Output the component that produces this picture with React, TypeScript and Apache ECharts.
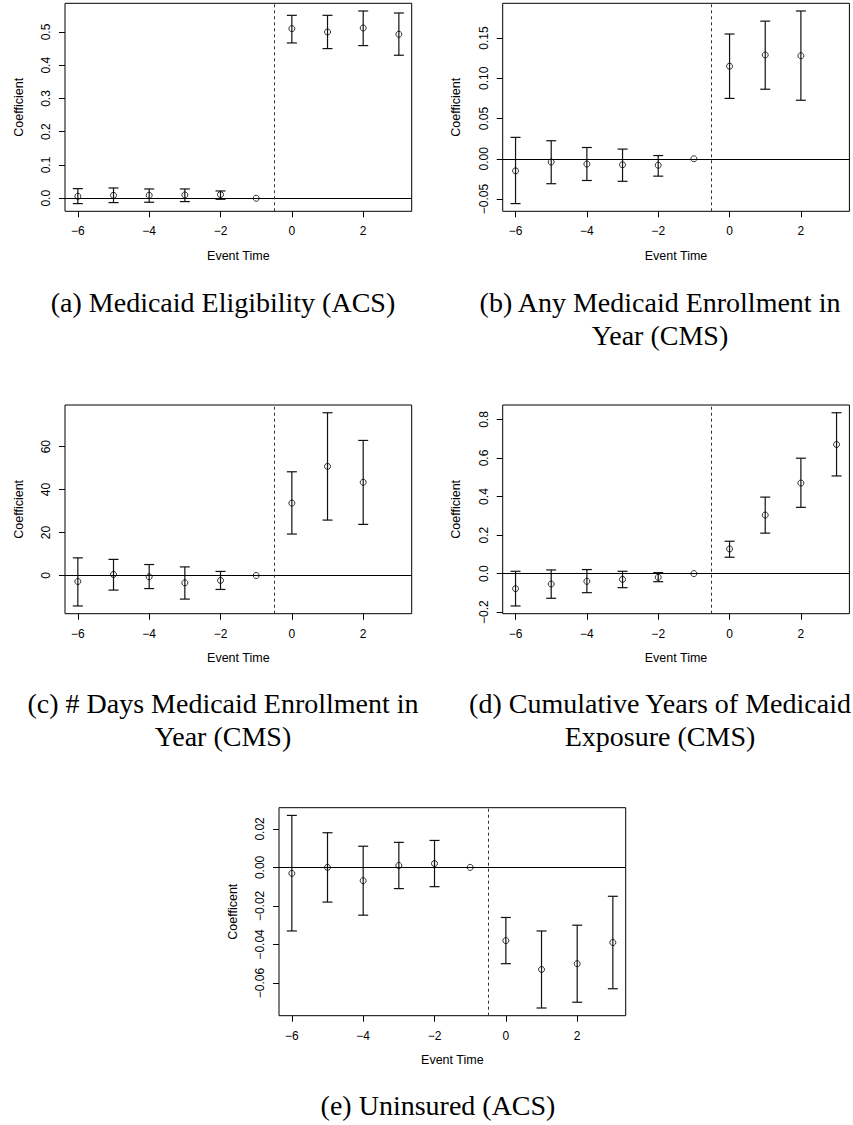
import React, { useEffect, useRef } from "react";
import * as echarts from "echarts";

// ---------- data ----------
const eventTime = [-6, -5, -4, -3, -2, -1, 0, 1, 2, 3];

const xTickValues = [-6, -4, -2, 0, 2];
const xTickLabels = ["\u22126", "\u22124", "\u22122", "0", "2"];

// (a) Medicaid Eligibility (ACS)
const aEst = [0.006, 0.009, 0.009, 0.010, 0.011, 0, 0.510, 0.500, 0.512, 0.493];
const aLo = [-0.016, -0.013, -0.012, -0.010, -0.003, null, 0.467, 0.450, 0.459, 0.430];
const aHi = [0.029, 0.031, 0.028, 0.028, 0.022, null, 0.550, 0.550, 0.563, 0.557];
const aTickValues = [0, 0.1, 0.2, 0.3, 0.4, 0.5];
const aTickLabels = ["0.0", "0.1", "0.2", "0.3", "0.4", "0.5"];

// (b) Any Medicaid Enrollment in Year (CMS)
const bEst = [-0.015, -0.004, -0.0066, -0.0075, -0.008, 0, 0.115, 0.129, 0.128];
const bLo = [-0.0557, -0.031, -0.027, -0.028, -0.0216, null, 0.075, 0.0864, 0.0727];
const bHi = [0.0266, 0.0224, 0.014, 0.012, 0.004, null, 0.155, 0.171, 0.1836];
const bTickValues = [-0.05, 0, 0.05, 0.1, 0.15];
const bTickLabels = ["\u22120.05", "0.00", "0.05", "0.10", "0.15"];

// (c) # Days Medicaid Enrollment in Year (CMS)
const cEst = [-2.8, 0.5, -0.6, -3.4, -2.3, 0, 33.7, 50.8, 43.4];
const cLo = [-14.2, -6.8, -6.1, -11.0, -6.5, null, 19.3, 25.8, 23.8];
const cHi = [8.2, 7.5, 5.1, 4.0, 1.9, null, 48.3, 75.8, 62.9];
const cTickValues = [0, 20, 40, 60];
const cTickLabels = ["0", "20", "40", "60"];

// (d) Cumulative Years of Medicaid Exposure (CMS)
const dEst = [-0.078, -0.054, -0.040, -0.030, -0.019, 0, 0.128, 0.304, 0.470, 0.670];
const dLo = [-0.168, -0.128, -0.099, -0.073, -0.042, null, 0.085, 0.210, 0.344, 0.507];
const dHi = [0.012, 0.019, 0.021, 0.012, 0.005, null, 0.168, 0.397, 0.599, 0.835];
const dTickValues = [-0.2, 0, 0.2, 0.4, 0.6, 0.8];
const dTickLabels = ["\u22120.2", "0.0", "0.2", "0.4", "0.6", "0.8"];

// (e) Uninsured (ACS)
const eEst = [-0.0031, 0.0, -0.0069, 0.001, 0.002, 0, -0.038, -0.053, -0.050, -0.039];
const eLo = [-0.033, -0.018, -0.0248, -0.011, -0.010, null, -0.050, -0.073, -0.070, -0.063];
const eHi = [0.027, 0.018, 0.011, 0.013, 0.014, null, -0.026, -0.033, -0.030, -0.015];
const eTickValues = [-0.06, -0.04, -0.02, 0, 0.02];
const eTickLabels = ["\u22120.06", "\u22120.04", "\u22120.02", "0.00", "0.02"];

const captionA = ["(a) Medicaid Eligibility (ACS)"];
const captionB = ["(b) Any Medicaid Enrollment in", "Year (CMS)"];
const captionC = ["(c) # Days Medicaid Enrollment in", "Year (CMS)"];
const captionD = ["(d) Cumulative Years of Medicaid", "Exposure (CMS)"];
const captionE = ["(e) Uninsured (ACS)"];

// ---------- layout ----------
const BOX_W = 346.7;
const panels = [
  { est: aEst, lo: aLo, hi: aHi, tv: aTickValues, tl: aTickLabels, yName: "Coefficient", grid: { left: 65, top: 3.3, width: BOX_W, height: 208 }, cap: captionA, capX: 223, capY: 302 },
  { est: bEst, lo: bLo, hi: bHi, tv: bTickValues, tl: bTickLabels, yName: "Coefficient", grid: { left: 502.7, top: 3.3, width: BOX_W, height: 208 }, cap: captionB, capX: 660, capY: 302 },
  { est: cEst, lo: cLo, hi: cHi, tv: cTickValues, tl: cTickLabels, yName: "Coefficient", grid: { left: 65, top: 405, width: BOX_W, height: 208.7 }, cap: captionC, capX: 223, capY: 703 },
  { est: dEst, lo: dLo, hi: dHi, tv: dTickValues, tl: dTickLabels, yName: "Coefficient", grid: { left: 502.7, top: 405, width: BOX_W, height: 208.7 }, cap: captionD, capX: 660, capY: 703 },
  { est: eEst, lo: eLo, hi: eHi, tv: eTickValues, tl: eTickLabels, yName: "Coefficent", grid: { left: 279, top: 807.7, width: BOX_W, height: 208 }, cap: captionE, capX: 438, capY: 1105 },
];

const SANS = "'Liberation Sans', Arial, Helvetica, sans-serif";
const SERIF = "'Liberation Serif', 'Times New Roman', serif";

function labelFor(values: number[], labels: string[]) {
  return (v: number) => {
    const i = values.findIndex((t) => Math.abs(t - v) < 1e-9);
    return i >= 0 ? labels[i] : "";
  };
}

function buildOption() {
  const xMinD = Math.min(...eventTime);
  const xMaxD = Math.max(...eventTime);
  const xPad = 0.04 * (xMaxD - xMinD);

  const grids: any[] = [];
  const xAxes: any[] = [];
  const yAxes: any[] = [];
  const series: any[] = [];
  const graphics: any[] = [];

  panels.forEach((p, i) => {
    const n = p.est.length;
    const vals: number[] = [];
    for (let k = 0; k < n; k++) {
      vals.push(p.est[k]);
      if (p.lo[k] != null) vals.push(p.lo[k] as number);
      if (p.hi[k] != null) vals.push(p.hi[k] as number);
    }
    const yMinD = Math.min(...vals);
    const yMaxD = Math.max(...vals);
    const yPad = 0.04 * (yMaxD - yMinD);

    grids.push({
      ...p.grid,
      show: true,
      borderColor: "#000",
      borderWidth: 1,
      backgroundColor: "transparent",
      containLabel: false,
    });

    xAxes.push({
      type: "value",
      gridIndex: i,
      position: "bottom",
      min: xMinD - xPad,
      max: xMaxD + xPad,
      splitLine: { show: false },
      axisLine: { show: false, onZero: false },
      axisTick: { show: true, inside: false, length: 6, lineStyle: { color: "#000", width: 1 }, customValues: xTickValues },
      axisLabel: {
        show: true,
        customValues: xTickValues,
        formatter: labelFor(xTickValues, xTickLabels),
        color: "#000",
        fontFamily: SANS,
        fontSize: 12,
        margin: 14,
      },
      name: "Event Time",
      nameLocation: "middle",
      nameGap: 38,
      nameTextStyle: { color: "#000", fontFamily: SANS, fontSize: 12.5 },
    });

    yAxes.push({
      type: "value",
      gridIndex: i,
      position: "left",
      min: yMinD - yPad,
      max: yMaxD + yPad,
      splitLine: { show: false },
      axisLine: { show: false, onZero: false },
      axisTick: { show: true, inside: false, length: 6, lineStyle: { color: "#000", width: 1 }, customValues: p.tv },
      axisLabel: {
        show: true,
        customValues: p.tv,
        formatter: labelFor(p.tv, p.tl),
        rotate: 90,
        color: "#000",
        fontFamily: SANS,
        fontSize: 12,
        margin: 13,
      },
      name: p.yName,
      nameLocation: "middle",
      nameRotate: 90,
      nameGap: 40,
      nameTextStyle: { color: "#000", fontFamily: SANS, fontSize: 12.5 },
    });

    const barData: any[] = [];
    const ptData: any[] = [];
    for (let k = 0; k < n; k++) {
      ptData.push([eventTime[k], p.est[k]]);
      if (p.lo[k] != null && p.hi[k] != null) barData.push([eventTime[k], p.lo[k], p.hi[k]]);
    }

    series.push({
      type: "custom",
      xAxisIndex: i,
      yAxisIndex: i,
      data: barData,
      encode: { x: 0, y: [1, 2] },
      silent: true,
      z: 3,
      renderItem: (params: any, api: any) => {
        const x = api.value(0);
        const a = api.coord([x, api.value(1)]);
        const b = api.coord([x, api.value(2)]);
        const w = 5;
        const st = { stroke: "#111", lineWidth: 1.2, fill: null };
        return {
          type: "group",
          children: [
            { type: "line", shape: { x1: a[0], y1: a[1], x2: b[0], y2: b[1] }, style: st },
            { type: "line", shape: { x1: a[0] - w, y1: a[1], x2: a[0] + w, y2: a[1] }, style: st },
            { type: "line", shape: { x1: b[0] - w, y1: b[1], x2: b[0] + w, y2: b[1] }, style: st },
          ],
        };
      },
    });

    series.push({
      type: "scatter",
      xAxisIndex: i,
      yAxisIndex: i,
      data: ptData,
      symbol: "circle",
      symbolSize: 6,
      silent: true,
      z: 4,
      itemStyle: { color: "rgba(0,0,0,0)", borderColor: "#000", borderWidth: 1 },
      markLine: {
        silent: true,
        symbol: ["none", "none"],
        label: { show: false },
        data: [
          { yAxis: 0, lineStyle: { type: "solid", color: "#000", width: 1 } },
          { xAxis: -0.5, lineStyle: { type: [3, 3], color: "#333", width: 1 } },
        ],
      },
    });

    p.cap.forEach((line, li) => {
      graphics.push({
        type: "text",
        x: p.capX,
        y: p.capY + li * 33.5,
        style: {
          text: line,
          fill: "#000",
          font: `28px ${SERIF}`,
          textAlign: "center",
          textVerticalAlign: "middle",
        },
      });
    });
  });

  return {
    animation: false,
    backgroundColor: "#fff",
    grid: grids,
    xAxis: xAxes,
    yAxis: yAxes,
    series,
    graphic: graphics,
  };
}

export default function App() {
  const ref = useRef<HTMLDivElement>(null);
  useEffect(() => {
    if (!ref.current) return;
    const chart = echarts.init(ref.current, undefined, { renderer: "svg" });
    chart.setOption(buildOption() as any);
    return () => chart.dispose();
  }, []);
  return (
    <div
      ref={ref}
      style={{ position: "absolute", left: 0, top: 0, width: 853, height: 1125, background: "#fff" }}
    />
  );
}
